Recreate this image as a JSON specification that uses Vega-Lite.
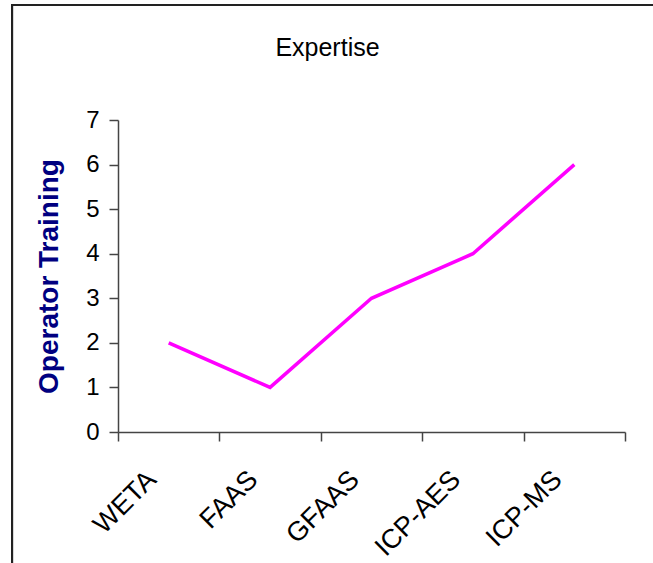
{
  "$schema": "https://vega.github.io/schema/vega-lite/v6.json",
  "width": 507,
  "height": 312,
  "autosize": {"type": "none"},
  "padding": {"left": 118, "top": 120, "right": 28, "bottom": 131},
  "background": "white",
  "config": {
    "view": {"stroke": null},
    "font": "Liberation Sans"
  },
  "title": {
    "text": "Expertise",
    "font": "Liberation Sans",
    "fontSize": 25,
    "fontWeight": "normal",
    "color": "black",
    "anchor": "middle",
    "frame": "group",
    "baseline": "alphabetic",
    "offset": 0,
    "dx": -44,
    "dy": 77
  },
  "data": {
    "values": [
      {"method": "WETA", "training": 2},
      {"method": "FAAS", "training": 1},
      {"method": "GFAAS", "training": 3},
      {"method": "ICP-AES", "training": 4},
      {"method": "ICP-MS", "training": 6}
    ]
  },
  "layer": [
    {
      "mark": {"type": "rect", "filled": false, "stroke": "#222222", "strokeWidth": 2, "clip": false},
      "encoding": {
        "x": {"datum": -0.209, "type": "quantitative", "scale": {"domain": [0, 1]}, "axis": null},
        "x2": {"datum": 1.07},
        "y": {"datum": 9.58, "type": "quantitative"},
        "y2": {"datum": -3.2}
      }
    },
    {
      "mark": {"type": "line", "color": "#FF00FF", "strokeWidth": 3.5},
      "encoding": {
        "x": {
          "field": "method",
          "type": "nominal",
          "sort": null,
          "scale": {"type": "band", "paddingInner": 0, "paddingOuter": 0},
          "axis": {
            "title": null,
            "domainColor": "#444444",
            "domainWidth": 1.5,
            "tickColor": "#444444",
            "tickWidth": 1.5,
            "tickSize": 9,
            "tickBand": "extent",
            "labelAngle": -45,
            "labelAlign": "right",
            "labelBaseline": "middle",
            "labelOffset": -17,
            "labelPadding": 34,
            "labelFont": "Liberation Sans",
            "labelFontSize": 27,
            "labelColor": "black",
            "grid": false
          }
        },
        "y": {
          "field": "training",
          "type": "quantitative",
          "scale": {"domain": [0, 7], "nice": false},
          "axis": {
            "title": "Operator Training",
            "titleFont": "Liberation Sans",
            "titleFontSize": 28,
            "titleFontWeight": "bold",
            "titleColor": "#000080",
            "titlePadding": 22,
            "values": [0, 1, 2, 3, 4, 5, 6, 7],
            "domainColor": "#444444",
            "domainWidth": 1.5,
            "tickColor": "#444444",
            "tickWidth": 1.5,
            "tickSize": 9,
            "labelPadding": 10,
            "labelFont": "Liberation Sans",
            "labelFontSize": 24,
            "labelColor": "black",
            "grid": false
          }
        }
      }
    }
  ],
  "resolve": {"scale": {"x": "independent"}}
}
